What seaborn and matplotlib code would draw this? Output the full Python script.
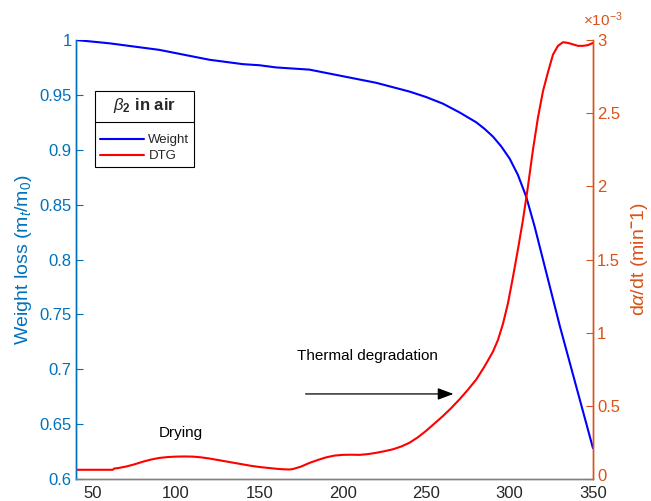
import matplotlib
matplotlib.use("Agg")
import matplotlib.pyplot as plt
import matplotlib.transforms as mtransforms
from matplotlib.lines import Line2D
import seaborn as sns
import pandas as pd

# Weight curve (TGA)
temp_w = [40, 50, 60, 70, 80, 90, 100, 110, 120, 130, 140, 150, 160, 170, 180,
          190, 200, 210, 220, 230, 240, 250, 260, 270, 280, 285, 290, 295, 300,
          305, 310, 315, 320, 325, 330, 335, 340, 345, 350]
weight = [1.0, 0.9985, 0.997, 0.995, 0.993, 0.991, 0.988, 0.985, 0.982, 0.980,
          0.978, 0.977, 0.975, 0.974, 0.973, 0.970, 0.967, 0.964, 0.961, 0.957,
          0.953, 0.948, 0.942, 0.934, 0.925, 0.919, 0.912, 0.903, 0.892, 0.877,
          0.857, 0.830, 0.800, 0.770, 0.740, 0.712, 0.684, 0.656, 0.628]

# DTG curve, in units of 1e-3 min^-1
temp_d = [40, 45, 50, 55, 60, 62, 63, 65, 70, 75, 80, 85, 90, 95, 100, 105, 110,
          115, 120, 125, 130, 135, 140, 145, 150, 155, 160, 165, 168, 170, 175,
          180, 185, 190, 195, 200, 205, 210, 215, 220, 225, 230, 235, 240, 245,
          250, 255, 260, 265, 270, 275, 280, 285, 290, 293, 296, 299, 302, 305,
          308, 311, 314, 317, 320, 323, 326, 329, 332, 335, 338, 341, 344, 347, 350]
dtg = [0.063, 0.063, 0.063, 0.063, 0.063, 0.063, 0.072, 0.074, 0.085, 0.100,
       0.118, 0.133, 0.144, 0.150, 0.153, 0.154, 0.153, 0.148, 0.140, 0.130,
       0.120, 0.110, 0.100, 0.090, 0.082, 0.076, 0.070, 0.066, 0.065, 0.068,
       0.085, 0.110, 0.130, 0.148, 0.160, 0.165, 0.166, 0.165, 0.170, 0.179,
       0.190, 0.203, 0.222, 0.248, 0.285, 0.330, 0.380, 0.430, 0.485, 0.545,
       0.610, 0.680, 0.770, 0.870, 0.950, 1.060, 1.200, 1.380, 1.570, 1.770,
       2.000, 2.250, 2.470, 2.650, 2.780, 2.900, 2.960, 2.985, 2.980, 2.970,
       2.960, 2.960, 2.965, 2.980]

x_ticks = [50, 100, 150, 200, 250, 300, 350]
left_ticks = [0.6, 0.65, 0.7, 0.75, 0.8, 0.85, 0.9, 0.95, 1.0]
left_labels = ["0.6", "0.65", "0.7", "0.75", "0.8", "0.85", "0.9", "0.95", "1"]
right_ticks = [0, 0.5, 1, 1.5, 2, 2.5, 3]
right_labels = ["0", "0.5", "1", "1.5", "2", "2.5", "3"]

BLUE_AX = "#0072BD"
ORANGE_AX = "#D95319"
GRAY = "#808080"
TXT = "#262626"
TICK_FS = 12

sns.set_theme(style="white")
plt.rcParams["font.family"] = ["Liberation Sans", "DejaVu Sans"]
plt.rcParams["mathtext.fontset"] = "custom"
plt.rcParams["mathtext.rm"] = "Liberation Sans"
plt.rcParams["mathtext.it"] = "Liberation Sans:italic"
plt.rcParams["mathtext.bf"] = "Liberation Sans:bold"

df_w = pd.DataFrame({"T": temp_w, "w": weight})
df_d = pd.DataFrame({"T": temp_d, "d": dtg})

fig = plt.figure(figsize=(6.51, 5.01), dpi=100)
ax = fig.add_axes([76 / 651, 22 / 501, 517 / 651, 439 / 501])
ax2 = ax.twinx()

sns.lineplot(data=df_w, x="T", y="w", ax=ax, color="#0000FF", lw=1.5, sort=False)
sns.lineplot(data=df_d, x="T", y="d", ax=ax2, color="#FF0000", lw=1.5, sort=False)

ax.set_xlim(40, 350)
ax.set_ylim(0.6, 1.0)
ax2.set_ylim(0, 3)

ax.set_xticks(x_ticks)
ax.set_xticklabels([str(t) for t in x_ticks], color=TXT, fontsize=TICK_FS)
ax.set_yticks(left_ticks)
ax.set_yticklabels(left_labels, color=BLUE_AX, fontsize=TICK_FS)
ax2.set_yticks(right_ticks)
ax2.set_yticklabels(right_labels, color=ORANGE_AX, fontsize=TICK_FS)

ax.set_xlabel("")
ax.set_ylabel("Weight loss (m$_t$/m$_0$)", color=BLUE_AX, fontsize=14, labelpad=4)
ax2.set_ylabel(r"d$\alpha$/dt (min$^{\mathbf{-}}$1)", color=ORANGE_AX,
               fontsize=14, labelpad=6)

for a in (ax, ax2):
    a.spines["top"].set_visible(False)
    a.spines["left"].set_color(BLUE_AX)
    a.spines["right"].set_color(ORANGE_AX)
    a.spines["bottom"].set_color(GRAY)
    for s in a.spines.values():
        s.set_linewidth(1.0)
    a.grid(False)

ax.tick_params(axis="x", direction="in", length=5, width=0.8, color=TXT, pad=5)
ax.tick_params(axis="y", direction="in", length=5, width=0.8, color=BLUE_AX, pad=3)
ax2.tick_params(axis="y", direction="in", length=5, width=0.8, color=ORANGE_AX, pad=3)

ax2.text((583 - 76) / 517, 1.025, r"$\times$10$^{-3}$", transform=ax2.transAxes,
         color=ORANGE_AX, fontsize=11, ha="left", va="bottom")

# Annotations
ax.text(103, 0.642, "Drying", fontsize=11, color="black", ha="center", va="center")
ax.text(214.5, 0.712, "Thermal degradation", fontsize=11, color="black",
        ha="center", va="center")
ax.annotate("", xy=(268, 0.6775), xytext=(176, 0.6775),
            arrowprops=dict(arrowstyle="-|>,head_length=0.8,head_width=0.3",
                            color="black", lw=0.9))

handles = [Line2D([], [], color="#0000FF", lw=1.5),
           Line2D([], [], color="#FF0000", lw=1.5)]
leg = ax.legend(handles, ["Weight", "DTG"], loc="upper left",
                bbox_to_anchor=(19 / 517, 388 / 439), borderaxespad=0,
                fontsize=9.5, handlelength=3.4, handletextpad=0.3,
                frameon=True, fancybox=False, edgecolor="black",
                framealpha=1, borderpad=0.35, labelspacing=0.3,
                title=r"$\beta_{\mathbf{2}}$ in air",
                title_fontproperties={"weight": "bold", "size": 12})
leg.get_frame().set_linewidth(0.8)
leg._legend_box.sep = 14

fig.canvas.draw()

# lift the bottom-right "0" a little so it clears the "350" below it
zero_lbl = ax2.yaxis.get_major_ticks()[0].label2
zero_lbl.set_transform(zero_lbl.get_transform() +
                       mtransforms.ScaledTranslation(0, 3 / 72, fig.dpi_scale_trans))

bb = leg.get_window_extent()
tb = leg.get_title().get_window_extent()
inv = fig.transFigure.inverted()
yline = tb.y0 - 7
(x0, yl), (x1, _) = inv.transform([(bb.x0, yline), (bb.x1, yline)])
fig.add_artist(Line2D([x0, x1], [yl, yl], color="black", lw=0.8,
                      transform=fig.transFigure))

fig.savefig("out.png", dpi=100)
